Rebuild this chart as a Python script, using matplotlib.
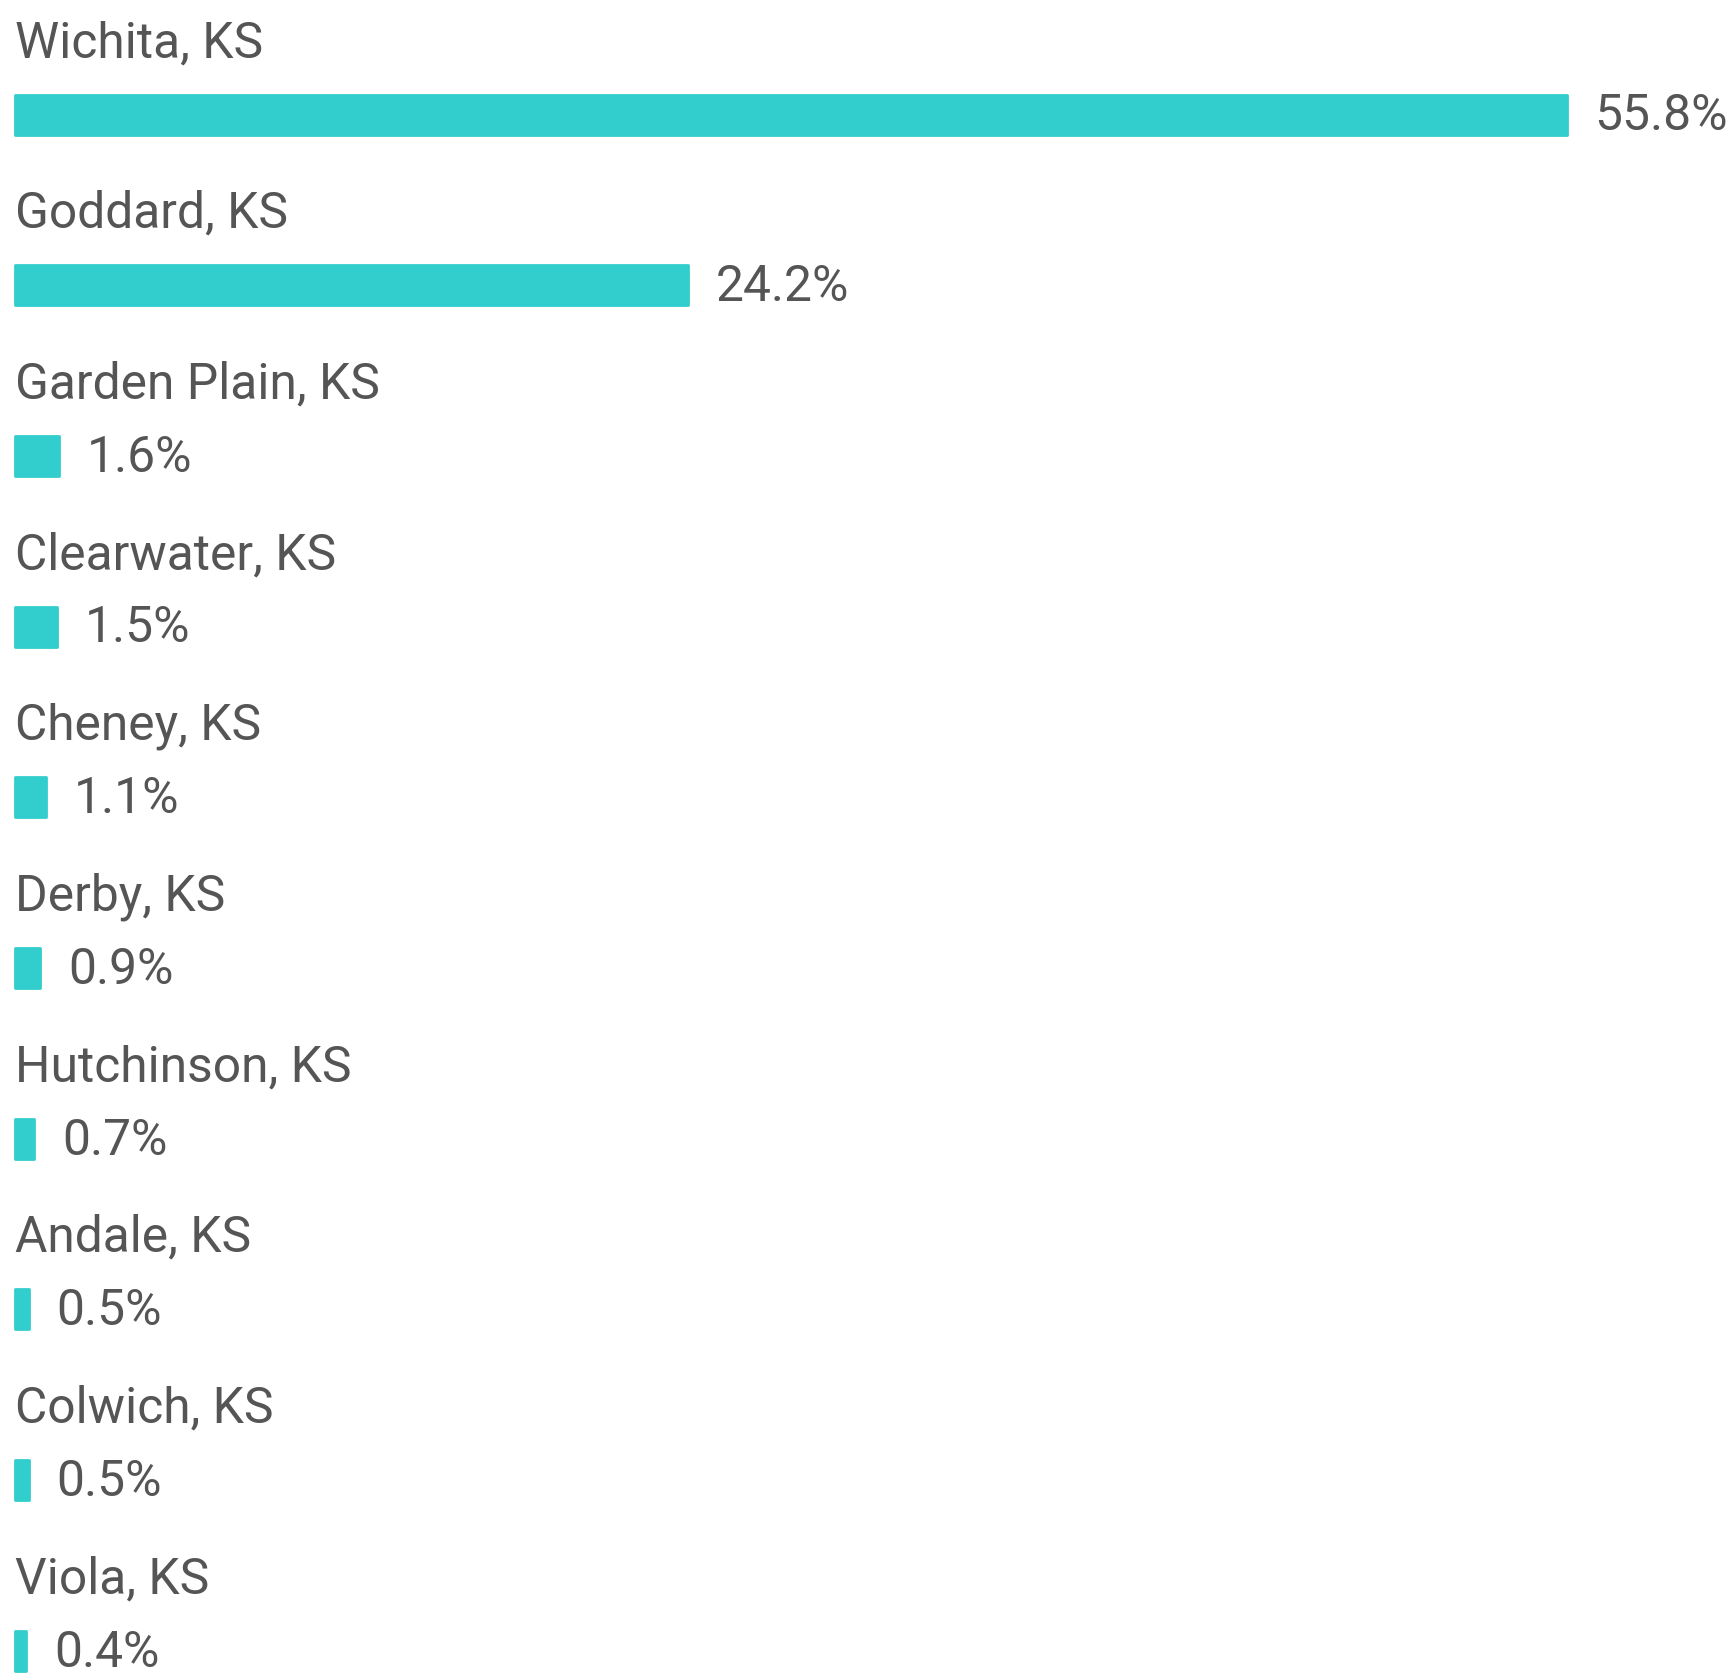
import matplotlib
matplotlib.use('Agg')
import matplotlib.pyplot as plt

# share of residents by city
cities = ['Wichita, KS', 'Goddard, KS', 'Garden Plain, KS', 'Clearwater, KS',
          'Cheney, KS', 'Derby, KS', 'Hutchinson, KS', 'Andale, KS',
          'Colwich, KS', 'Viola, KS']
shares = [55.8, 24.2, 1.6, 1.5, 1.1, 0.9, 0.7, 0.5, 0.5, 0.4]

bar_color = '#32cdcd'
text_color = '#555555'
plt.rcParams['font.family'] = ['Roboto', 'DejaVu Sans']

fig = plt.figure(figsize=(17.3, 16.81), dpi=100)
ax = fig.add_axes([0, 0, 1, 1])

px_per_pct = 27.81
row_px = 170.7
ax.set_xlim(-15 / px_per_pct, (1730 - 15) / px_per_pct)
ax.set_ylim((1681 - 115.5) / row_px, -115.5 / row_px)
ax.axis('off')

ypos = list(range(len(cities)))
bars = ax.barh(ypos, shares, height=40 / row_px, color=bar_color,
               edgecolor=bar_color, linewidth=2)
for b in bars:
    b.set_joinstyle('round')

for y, name, val in zip(ypos, cities, shares):
    ax.text(0, y - 58.5 / row_px, name, fontsize=35.8, color=text_color,
            ha='left', va='baseline')
    ax.annotate(f'{val}%', xy=(val, y), xytext=(20, 3),
                textcoords='offset points', fontsize=35.8, color=text_color,
                ha='left', va='center_baseline')

fig.savefig('out.png', dpi=100, facecolor='white')
